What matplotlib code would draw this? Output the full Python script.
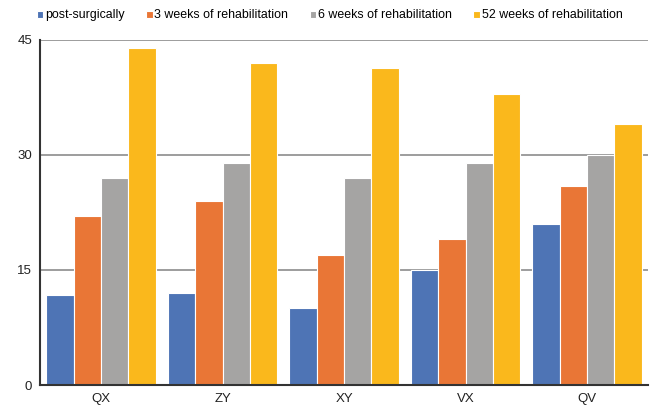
import numpy as np
import matplotlib.pyplot as plt

plt.rcParams['font.family'] = ['Liberation Sans', 'DejaVu Sans']

categories = ['QX', 'ZY', 'XY', 'VX', 'QV']
series_names = ['post-surgically', '3 weeks of rehabilitation',
                '6 weeks of rehabilitation', '52 weeks of rehabilitation']
post_surgically = [11.7, 12, 10, 15, 21]
weeks_3 = [22, 24, 17, 19, 26]
weeks_6 = [27, 29, 27, 29, 30]
weeks_52 = [44, 42, 41.3, 38, 34]
colors = ['#4E74B5', '#E97636', '#A5A4A3', '#FAB81C']

fig = plt.figure(figsize=(6.51, 4.07), dpi=100)
ax = fig.add_axes([0.062, 0.054, 0.933, 0.848])

x = np.arange(len(categories))
w = 0.225
for i, (vals, name) in enumerate(zip([post_surgically, weeks_3, weeks_6, weeks_52], series_names)):
    ax.bar(x + (i - 1.5) * w, vals, w, color=colors[i], edgecolor='white',
           linewidth=0.8, label=name, zorder=3)

ax.set_ylim(0, 45)
ax.set_yticks([0, 15, 30, 45])
ax.set_xlim(-0.5, 4.5)
ax.set_xticks(x)
ax.set_xticklabels(categories)
ax.yaxis.grid(True, color='#8c8c8c', linewidth=1.2, zorder=0)
ax.tick_params(length=0, labelsize=9.5, colors='#222222', pad=6)
for s in ['top', 'right']:
    ax.spines[s].set_visible(False)
for s in ['left', 'bottom']:
    ax.spines[s].set_color('#333333')
    ax.spines[s].set_linewidth(1.5)
    ax.spines[s].set_zorder(5)

fig.legend(loc='center left', bbox_to_anchor=(0.057, 0.962), ncol=4, frameon=False,
           fontsize=8.9, handlelength=0.5, handleheight=0.5, handletextpad=0.15,
           columnspacing=1.75, borderaxespad=0, borderpad=0)

fig.savefig('out.png', dpi=100)
